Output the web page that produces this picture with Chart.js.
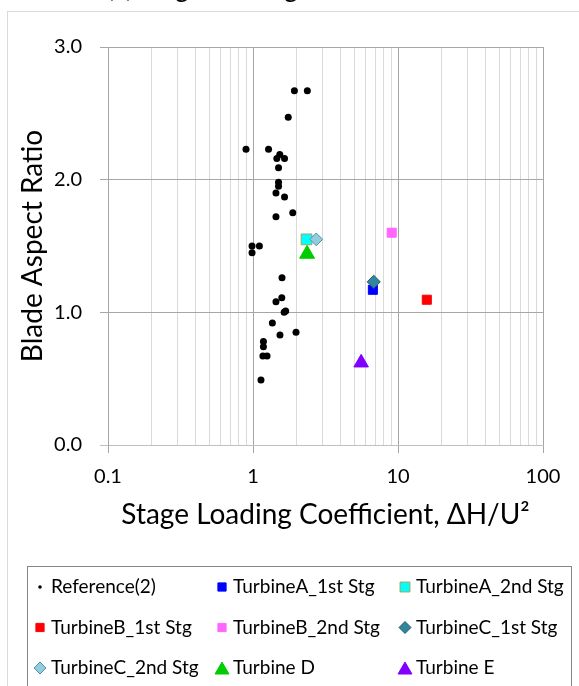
<!DOCTYPE html>
<html lang="en">
<head>
<meta charset="UTF-8">
<title>Blade Aspect Ratio vs Stage Loading Coefficient</title>
<script src="https://cdn.jsdelivr.net/npm/chart.js"></script>
<style>
  html, body { margin: 0; padding: 0; background: #fff; }
  #chart { display: block; }
</style>
</head>
<body>
<canvas id="chart" width="579" height="686"></canvas>
<script>
// Reference(2) data cloud
const refLoading = [1.93, 2.37, 1.75, 0.895, 1.28, 1.53, 1.46, 1.65, 1.50, 1.50, 1.50, 1.44, 1.65, 1.88, 1.44,
                    0.985, 1.107, 0.985, 1.585, 1.58, 1.44, 1.64, 1.68, 1.36, 1.535, 1.98, 1.18, 1.18, 1.17, 1.25, 1.135];
const refAspect  = [2.67, 2.67, 2.47, 2.23, 2.23, 2.19, 2.16, 2.16, 2.09, 1.98, 1.95, 1.90, 1.87, 1.75, 1.72,
                    1.50, 1.50, 1.45, 1.26, 1.11, 1.08, 1.00, 1.01, 0.92, 0.83, 0.85, 0.78, 0.74, 0.67, 0.67, 0.49];

// one point per turbine stage
const turbineNames   = ['TurbineA_1st Stg', 'TurbineA_2nd Stg', 'TurbineB_1st Stg', 'TurbineB_2nd Stg',
                        'TurbineC_1st Stg', 'TurbineC_2nd Stg', 'Turbine D', 'Turbine E'];
const turbineLoading = [6.71, 2.34, 15.8, 9.05, 6.80, 2.73, 2.36, 5.57];
const turbineAspect  = [1.17, 1.55, 1.095, 1.60, 1.23, 1.55, 1.44, 0.62];

const xMajorTicks = [0.1, 1, 10, 100];
const yTicks = [0, 1, 2, 3];

// marker look per series (r = plot radius, lr = legend radius)
const refStyle = { shape: 'circle', fill: '#000000', line: '#000000', r: 3.5, lr: 1.8 };
const turbineStyles = [
  { shape: 'rect',     fill: '#0000ff', line: '#0000ff', r: 6.4, lr: 5.8 },
  { shape: 'rect',     fill: '#00ffff', line: '#a5a55a', r: 7.6, lr: 7.0 },
  { shape: 'rect',     fill: '#ff0000', line: '#ff0000', r: 6.4, lr: 5.8 },
  { shape: 'rect',     fill: '#ff66ff', line: '#ff66ff', r: 6.4, lr: 5.8 },
  { shape: 'rectRot',  fill: '#31859c', line: '#215f70', r: 6.6, lr: 6.0 },
  { shape: 'rectRot',  fill: '#93cddd', line: '#4f93aa', r: 6.4, lr: 6.0 },
  { shape: 'triangle', fill: '#00cc00', line: '#00cc00', r: 8.6, lr: 8.0 },
  { shape: 'triangle', fill: '#7f00ff', line: '#7f00ff', r: 8.4, lr: 8.0 }
];

const majorGrid = '#a6a6a6';
const minorGrid = '#d9d9d9';
const axisLine  = '#bfbfbf';
const FONT = 'Lato';

function isDecade(v) {
  const l = Math.log10(v);
  return Math.abs(l - Math.round(l)) < 1e-9;
}

// decades plus the 2..9 multiples in between
const xGridValues = [];
xMajorTicks.forEach((d, i) => {
  xGridValues.push(d);
  if (i < xMajorTicks.length - 1) {
    for (let m = 2; m <= 9; m++) xGridValues.push(Number((m * d).toPrecision(6)));
  }
});

const datasets = [{
  label: 'Reference(2)',
  data: refLoading.map((x, i) => ({ x: x, y: refAspect[i] })),
  pointStyle: refStyle.shape,
  pointRadius: refStyle.r,
  backgroundColor: refStyle.fill,
  borderColor: refStyle.line,
  borderWidth: 0,
  order: 20
}].concat(turbineNames.map((name, i) => ({
  label: name,
  data: [{ x: turbineLoading[i], y: turbineAspect[i] }],
  pointStyle: turbineStyles[i].shape,
  pointRadius: turbineStyles[i].r,
  backgroundColor: turbineStyles[i].fill,
  borderColor: turbineStyles[i].line,
  borderWidth: 1,
  order: 10 - i
})));

function drawMarker(ctx, s, x, y, r) {
  ctx.beginPath();
  if (s.shape === 'circle') {
    ctx.arc(x, y, r, 0, Math.PI * 2);
  } else if (s.shape === 'rect') {
    const h = r * Math.SQRT1_2;
    ctx.rect(x - h, y - h, 2 * h, 2 * h);
  } else if (s.shape === 'rectRot') {
    ctx.moveTo(x, y - r); ctx.lineTo(x + r, y); ctx.lineTo(x, y + r); ctx.lineTo(x - r, y);
    ctx.closePath();
  } else if (s.shape === 'triangle') {
    const cy = y + r / 4; // centre the box, not the centroid
    ctx.moveTo(x, cy - r);
    ctx.lineTo(x + r * Math.sqrt(3) / 2, cy + r / 2);
    ctx.lineTo(x - r * Math.sqrt(3) / 2, cy + r / 2);
    ctx.closePath();
  }
  ctx.fillStyle = s.fill;
  ctx.fill();
  if (s.shape !== 'circle') {
    ctx.lineWidth = 1;
    ctx.strokeStyle = s.line;
    ctx.stroke();
  }
}

// outer frame and the caption line above the plot
const framePlugin = {
  id: 'frame',
  beforeDraw(chart) {
    const ctx = chart.ctx;
    ctx.save();
    ctx.fillStyle = '#ffffff';
    ctx.fillRect(0, 0, chart.width, chart.height);
    ctx.strokeStyle = '#d9d9d9';
    ctx.lineWidth = 1;
    ctx.strokeRect(7.5, 11.5, chart.width + 20, chart.height + 20);
    ctx.fillStyle = '#000000';
    ctx.font = '26px ' + FONT;
    ctx.textBaseline = 'alphabetic';
    ctx.textAlign = 'left';
    ctx.fillText('(a) Stage Loading', 107, -3);
    ctx.restore();
  }
};

// three-column boxed legend under the axis title
const legendPlugin = {
  id: 'gridLegend',
  afterDraw(chart) {
    const ctx = chart.ctx;
    const items = [{ label: 'Reference(2)', style: refStyle }]
      .concat(turbineNames.map((n, i) => ({ label: n, style: turbineStyles[i] })));
    const colX = [40, 222, 405];
    const rowY = [587, 627.5, 668];
    ctx.save();
    ctx.strokeStyle = '#868686';
    ctx.lineWidth = 1;
    ctx.strokeRect(27.5, 566.5, 544, 200);
    ctx.font = '19px ' + FONT;
    ctx.textBaseline = 'middle';
    ctx.textAlign = 'left';
    items.forEach((it, k) => {
      const x = colX[k % 3];
      const y = rowY[Math.floor(k / 3)];
      drawMarker(ctx, it.style, x, y, it.style.lr);
      ctx.fillStyle = '#000000';
      ctx.fillText(it.label, x + 11, y);
    });
    ctx.restore();
  }
};

Chart.defaults.font.family = FONT;
Chart.defaults.color = '#000000';

new Chart(document.getElementById('chart'), {
  type: 'scatter',
  data: { datasets: datasets },
  options: {
    responsive: false,
    animation: false,
    layout: { padding: { top: 47, right: 36, bottom: 151, left: 0 } },
    plugins: {
      legend: { display: false },
      tooltip: { enabled: false }
    },
    scales: {
      x: {
        type: 'logarithmic',
        min: 0.1,
        max: 100,
        afterBuildTicks: (scale) => {
          scale.ticks = xGridValues.map(v => ({ value: v, major: isDecade(v) }));
        },
        afterFit: (scale) => { scale.height = 90; },
        ticks: {
          autoSkip: false,
          maxRotation: 0,
          padding: 12,
          color: '#000000',
          font: { size: 20 },
          callback: (v) => isDecade(v) ? String(v) : ''
        },
        grid: {
          color: (c) => isDecade(c.tick.value) ? majorGrid : minorGrid,
          tickColor: (c) => isDecade(c.tick.value) ? majorGrid : 'rgba(0,0,0,0)',
          tickLength: 8
        },
        border: { color: axisLine, width: 1 },
        title: {
          display: true,
          text: 'Stage Loading Coefficient, ΔH/U²',
          color: '#000000',
          font: { size: 28 },
          padding: { top: 0, bottom: 3 }
        }
      },
      y: {
        min: 0,
        max: 3,
        afterBuildTicks: (scale) => {
          scale.ticks = yTicks.map(v => ({ value: v }));
        },
        afterFit: (scale) => { scale.width = 108; },
        ticks: {
          padding: 18,
          color: '#000000',
          font: { size: 20 },
          callback: (v) => Number(v).toFixed(1)
        },
        grid: {
          color: (c) => c.tick.value === 0 ? axisLine : majorGrid,
          tickColor: (c) => c.tick.value === 0 ? axisLine : majorGrid,
          tickLength: 8
        },
        border: { color: majorGrid },
        title: {
          display: true,
          text: 'Blade Aspect Ratio',
          color: '#000000',
          font: { size: 28 },
          padding: { top: 16, bottom: 0 }
        }
      }
    }
  },
  plugins: [framePlugin, legendPlugin]
});
</script>
</body>
</html>
